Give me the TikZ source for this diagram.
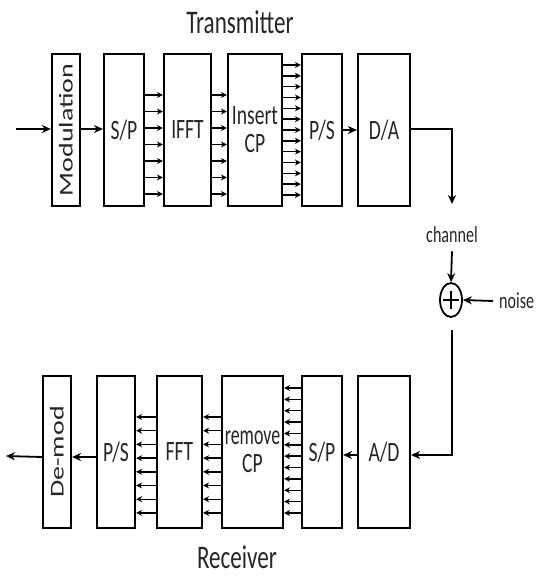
\documentclass[tikz,border=0pt]{standalone}
\usepackage{fontspec}
\setmainfont{Carlito}
\usetikzlibrary{arrows.meta,shapes.geometric}
\newcommand\sqz[1]{\scalebox{0.7}[1]{#1}}
\newcommand\sqn[1]{\scalebox{0.64}[1]{#1}}
\newcommand\sqr[1]{\scalebox{1}[0.7]{#1}}
\begin{document}
\begin{tikzpicture}[x=1pt,y=-1pt,
 blk/.style={draw,line width=2.2pt,inner sep=0pt,align=center,text=black!85,
   font=\fontsize{28}{30}\selectfont},
 conn/.style={line width=1.8pt,-{Stealth[length=9pt,width=8pt]}},
 bus/.style={line width=1.4pt,-{Stealth[length=6pt,width=6pt]}},
 lbl/.style={font=\fontsize{23}{26}\selectfont,inner sep=0pt,text=black!85},
 ttl/.style={font=\fontsize{33}{36}\selectfont,inner sep=0pt,text=black!85}]
\useasboundingbox (0,0) rectangle (540,576);

% titles
\node[ttl] (tx) at (240,22) {\sqz{Transmitter}};
\node[ttl] (rx) at (237,557) {\sqz{Receiver}};

% transmitter blocks
\node[blk,minimum width=28,minimum height=152] (mod) at (66,130) {};
\node[blk,rotate=90,draw=none] (modt) at (mod.center) {\sqr{Modulation}};
\node[blk,minimum width=40,minimum height=152] (sp1) at (124,130) {\sqz{S/P}};
\node[blk,minimum width=47,minimum height=152] (ifft) at (187.5,130) {\sqz{IFFT}};
\node[blk,minimum width=54,minimum height=152] (icp) at (255,130) {\sqz{Insert}\\[-2pt]\sqz{CP}};
\node[blk,minimum width=40,minimum height=152] (ps1) at (322,130) {\sqz{P/S}};
\node[blk,minimum width=52,minimum height=152] (da) at (384,130) {\sqz{D/A}};

% receiver blocks
\node[blk,minimum width=28,minimum height=152] (dem) at (57,452) {};
\node[blk,rotate=90,draw=none] (demt) at (dem.center) {\sqr{De-mod}};
\node[blk,minimum width=38,minimum height=152] (ps2) at (116,452) {\sqz{P/S}};
\node[blk,minimum width=45,minimum height=152] (fft) at (179.5,452) {\sqz{FFT}};
\node[blk,minimum width=61,minimum height=152] (rcp) at (252.5,452) {\sqn{remove}\\[-2pt]\sqz{CP}};
\node[blk,minimum width=40,minimum height=152] (sp2) at (322,452) {\sqz{S/P}};
\node[blk,minimum width=52,minimum height=152] (ad) at (384,452) {\sqz{A/D}};

% channel part
\coordinate (in) at (16,129);
\coordinate (out) at (6,456);
\coordinate (dadown) at (452,204);
\node[lbl] (ch) at (452,235) {\sqz{channel}};
\node[draw,ellipse,line width=1.8pt,minimum width=22,minimum height=34,inner sep=0pt] (sum) at (451,300) {};
\draw[line width=1.8pt] ([yshift=-9pt]sum.center) -- ([yshift=9pt]sum.center);
\draw[line width=1.8pt] ([xshift=-8pt]sum.center) -- ([xshift=8pt]sum.center);
\node[lbl,anchor=west] (noise) at (499,301) {\sqz{noise}};
\coordinate (sumout) at (452,330);

% main connectors
\draw[conn] (in) -- (mod.west |- in);
\draw[conn] (mod.east |- in) -- (sp1.west |- in);
\draw[conn] (ps1) -- (da);
\draw[conn] (da.east |- in) -| (dadown);
\draw[conn] (ch.south) ++(0,8) coordinate (chs) -- (sum.north);
\draw[conn] (noise.west) ++(-6,0) coordinate (nw) -- (sum.east);
\draw[conn,line width=2.4pt] (sumout) |- (ad.east |- 0,455);
\draw[conn] (ad.west |- 0,455) -- (sp2.east |- 0,455);
\draw[conn] (ps2.west |- 0,457) -- (dem.east |- 0,457);
\draw[conn] (dem.west |- 0,457) -- (out);

% parallel buses (transmitter)
\foreach \k [evaluate=\k as \yy using 95+16.5*\k] in {0,...,6}{
  \draw[bus] (sp1.east |- 0,\yy) -- (ifft.west |- 0,\yy);
  \draw[bus] (ifft.east |- 0,\yy) -- (icp.west |- 0,\yy);
}
\foreach \k [evaluate=\k as \yy using 65+10.83*\k] in {0,...,12}{
  \draw[bus] (icp.east |- 0,\yy) -- (ps1.west |- 0,\yy);
}
% parallel buses (receiver)
\foreach \k [evaluate=\k as \yy using 388+11.36*\k] in {0,...,11}{
  \draw[bus] (sp2.west |- 0,\yy) -- (rcp.east |- 0,\yy);
}
\foreach \k [evaluate=\k as \yy using 417+13.7*\k] in {0,...,7}{
  \draw[bus] (rcp.west |- 0,\yy) -- (fft.east |- 0,\yy);
  \draw[bus] (fft.west |- 0,\yy) -- (ps2.east |- 0,\yy);
}
\end{tikzpicture}
\end{document}
